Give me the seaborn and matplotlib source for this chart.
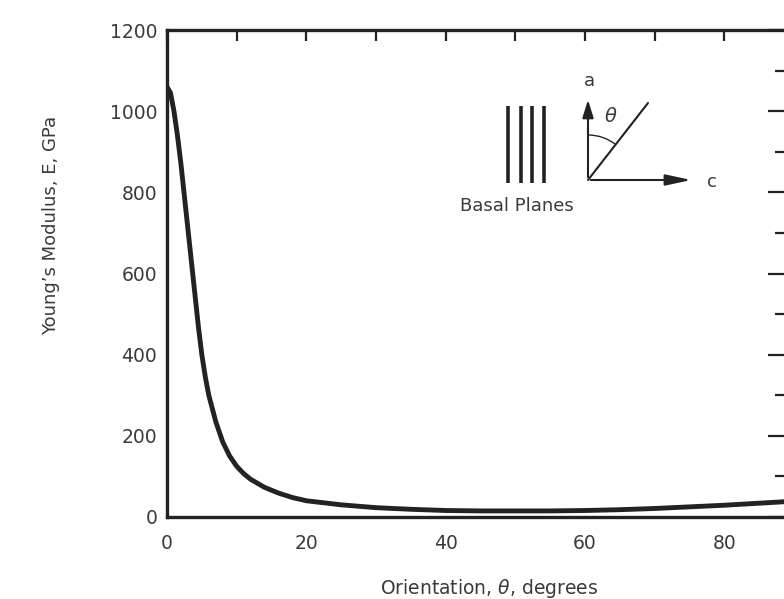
import matplotlib
matplotlib.use("Agg")
import matplotlib.pyplot as plt
from matplotlib.ticker import MultipleLocator
from matplotlib.patches import Arc
import seaborn as sns
import pandas as pd

# ---- data ----
orientation_deg = [0, 0.5, 1, 1.5, 2, 2.5, 3, 3.5, 4, 4.5, 5, 5.5, 6, 7, 8, 9, 10, 11, 12,
                   14, 16, 18, 20, 25, 30, 35, 40, 45, 50, 55, 60, 65, 70, 75, 80, 85, 90]
youngs_modulus_gpa = [1060, 1045, 1000, 940, 870, 790, 710, 630, 550, 470, 400, 345, 300, 235,
                      185, 150, 125, 107, 93, 73, 59, 48, 40, 30, 23, 19, 16, 15, 15, 15, 16,
                      18, 21, 25, 29, 34, 39]
x_major_ticks = [0, 20, 40, 60, 80]
y_major_ticks = [0, 200, 400, 600, 800, 1000, 1200]
x_label = "Orientation, $\\theta$, degrees"
y_label = "Young\u2019s Modulus, E, GPa"
inset_caption = "Basal Planes"

df = pd.DataFrame({"theta": orientation_deg, "E": youngs_modulus_gpa})

sns.set_theme(style="white")
plt.rcParams["font.family"] = ["DejaVu Sans"]
plt.rcParams["mathtext.fontset"] = "dejavusans"

W, H = 784, 599
fig = plt.figure(figsize=(W / 100, H / 100), dpi=100)
fig.patch.set_facecolor("white")

ink = "#222222"
txt = "#3a3a3a"

left, right, top, bottom = 167, 787, 30, 517
ax = fig.add_axes([left / W, 1 - bottom / H, (right - left) / W, (bottom - top) / H])
ax.set_facecolor("none")

sns.lineplot(data=df, x="theta", y="E", ax=ax, color=ink, linewidth=3.5,
             solid_capstyle="round", solid_joinstyle="round")

ax.set_xlim(0, 89)
ax.set_ylim(0, 1200)
ax.set_xticks(x_major_ticks)
ax.set_yticks(y_major_ticks)
ax.xaxis.set_minor_locator(MultipleLocator(10))
ax.yaxis.set_minor_locator(MultipleLocator(100))

for s in ax.spines.values():
    s.set_color(ink)
    s.set_linewidth(2.4)

ax.tick_params(axis="both", which="both", direction="in", color=ink, width=1.6,
               top=True, right=True, labelcolor=txt, labelsize=13.5)
ax.tick_params(axis="x", which="major", length=8, pad=12)
ax.tick_params(axis="x", which="minor", length=8)
ax.tick_params(axis="y", which="major", length=14, pad=7)
ax.tick_params(axis="y", which="minor", length=9)

ax.set_xlabel("")
ax.set_ylabel("")
fig.text(489 / W, 1 - 589 / H, x_label, ha="center", va="center", fontsize=13.5, color=txt)
fig.text(51 / W, 1 - 225 / H, y_label, ha="center", va="center", rotation=90,
         fontsize=13, color=txt)

# ---- inset sketch (decoration) drawn on an overlay in pixel coordinates ----
ov = fig.add_axes([0, 0, 1, 1])
ov.set_xlim(0, W)
ov.set_ylim(H, 0)
ov.axis("off")
for xp in [508, 521, 532, 544]:
    ov.plot([xp, xp], [106, 183], color=ink, lw=2.6, solid_capstyle="butt")
ov.text(517, 206, inset_caption, ha="center", va="center", fontsize=13, color=txt)
ox, oy = 588, 180
ov.annotate("", xy=(ox, 97), xytext=(ox, oy),
            arrowprops=dict(arrowstyle="-|>,head_length=0.9,head_width=0.28", color=ink, lw=1.5))
ov.annotate("", xy=(694, oy), xytext=(ox, oy),
            arrowprops=dict(arrowstyle="-|>,head_length=1.3,head_width=0.28", color=ink, lw=1.5))
ov.plot([ox, 648], [oy, 103], color=ink, lw=1.5)
ov.add_patch(Arc((ox, oy), 90, 90, theta1=-90, theta2=-52, color=ink, lw=1.0))
ov.text(589, 81, "a", ha="center", va="center", fontsize=13, color=txt)
ov.text(712, 182, "c", ha="center", va="center", fontsize=13, color=txt)
ov.text(611, 117, "$\\theta$", ha="center", va="center", fontsize=14, color=txt)

fig.savefig("out.png", dpi=100, facecolor="white")
